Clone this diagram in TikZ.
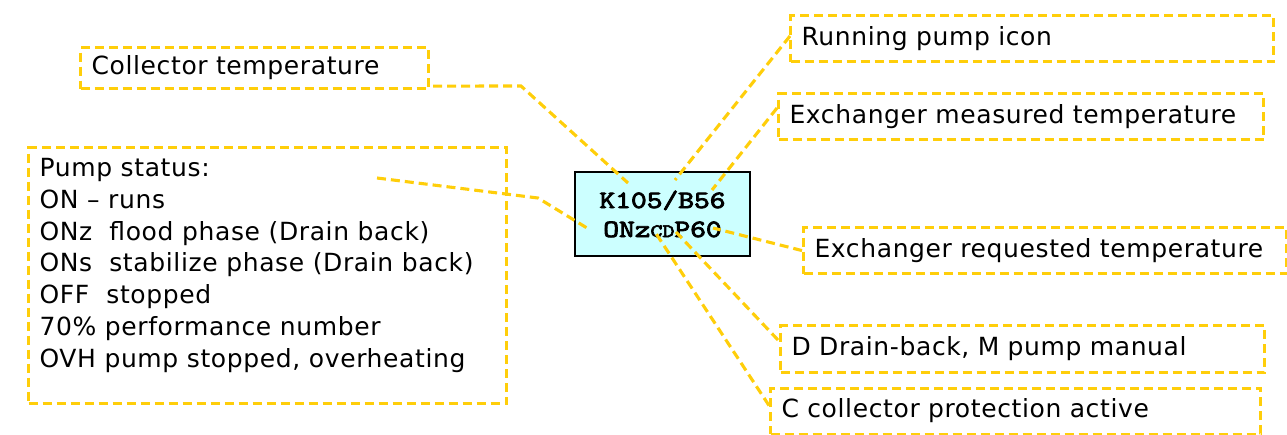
\documentclass[tikz,border=0pt]{standalone}
\usepackage{fontspec}
\usepackage{graphicx}
\setmainfont{DejaVu Sans}[LetterSpace=2.5]
\newfontfamily\dispfam{lmmono10-regular.otf}[FakeBold=3]
\usetikzlibrary{calc}
\definecolor{ylw}{RGB}{255,206,10}
\definecolor{dispfill}{RGB}{204,255,255}
\newcommand{\lblfont}{\fontsize{25}{25}\selectfont}
\newcommand{\dispfont}{\dispfam\fontsize{25}{29}\selectfont}
\begin{document}
\begin{tikzpicture}[x=1pt,y=-1pt,
  lblbase/.style={draw=ylw, line width=3.1pt, dash pattern=on 9pt off 5pt, font=\lblfont, anchor=north west, inner xsep=11pt, inner ysep=0pt},
  lbl/.style={lblbase, align=left, minimum height=46pt},
  lead/.style={draw=ylw, line width=3.1pt, dash pattern=on 9pt off 5pt},
  disp/.style={draw=black, line width=2pt, fill=dispfill, minimum width=175pt, minimum height=84pt, align=center, font=\dispfont, inner sep=0pt}]
\useasboundingbox (0,0) rectangle (1287,434);

% label boxes
\node[lbl, text width=326pt, minimum height=41pt] (coll) at (79,46) {Collector temperature};
\node[lbl, text width=461pt] (run) at (789,14) {Running pump icon};
\node[lbl, text width=463pt] (meas) at (777,92) {Exchanger measured temperature};
\node[lbl, text width=461pt] (req) at (802,226) {Exchanger requested temperature};
\node[lbl, text width=462pt, minimum height=47pt] (dd) at (779,324) {D Drain-back, M pump manual};
\node[lbl, text width=468pt] (cc) at (769,386.5) {C collector protection active};
\node[lblbase] (pump) at (27,146) {\begin{minipage}[t][256pt][t]{456pt}\baselineskip=31.8pt
\rule{0pt}{29pt}Pump status:\\
ON – runs\\
ONz\ \ flood phase (Drain back)\\
ONs\ \ stabilize phase (Drain back)\\
OFF\ \ stopped\\
70\% performance number\\
OVH pump stopped, overheating\end{minipage}};

% display box
\node[disp] (disp) at (662.5,214) {\scalebox{1.2}[1]{K105/B56}\\\scalebox{1.2}[1]{ONz{\fontsize{19}{19}\selectfont CD}P60}};

% leader end points inside the display
\coordinate (b1) at (521,86);
\coordinate (e1) at (628,183);
\coordinate (b2) at (538,198);
\coordinate (e2) at (587,228);
\coordinate (e3) at (675,180);
\coordinate (e4) at (712,190);
\coordinate (e5) at (713,228);
\coordinate (e6) at (676,232);
\coordinate (e7) at (655,232);

\draw[lead] ($(coll.south east)+(3,-4)$) -- (b1) -- (e1);
\draw[lead] ($(pump.north west)+(350,32)$) -- (b2) -- (e2);
\draw[lead] ($(run.north west)+(1,22)$) -- (e3);
\draw[lead] ($(meas.north west)+(0,16)$) -- (e4);
\draw[lead] (req.west) -- (e5);
\draw[lead] ($(dd.north west)+(-1,16)$) -- (e6);
\draw[lead] ($(cc.north west)+(0,19)$) -- (e7);
\end{tikzpicture}
\end{document}
